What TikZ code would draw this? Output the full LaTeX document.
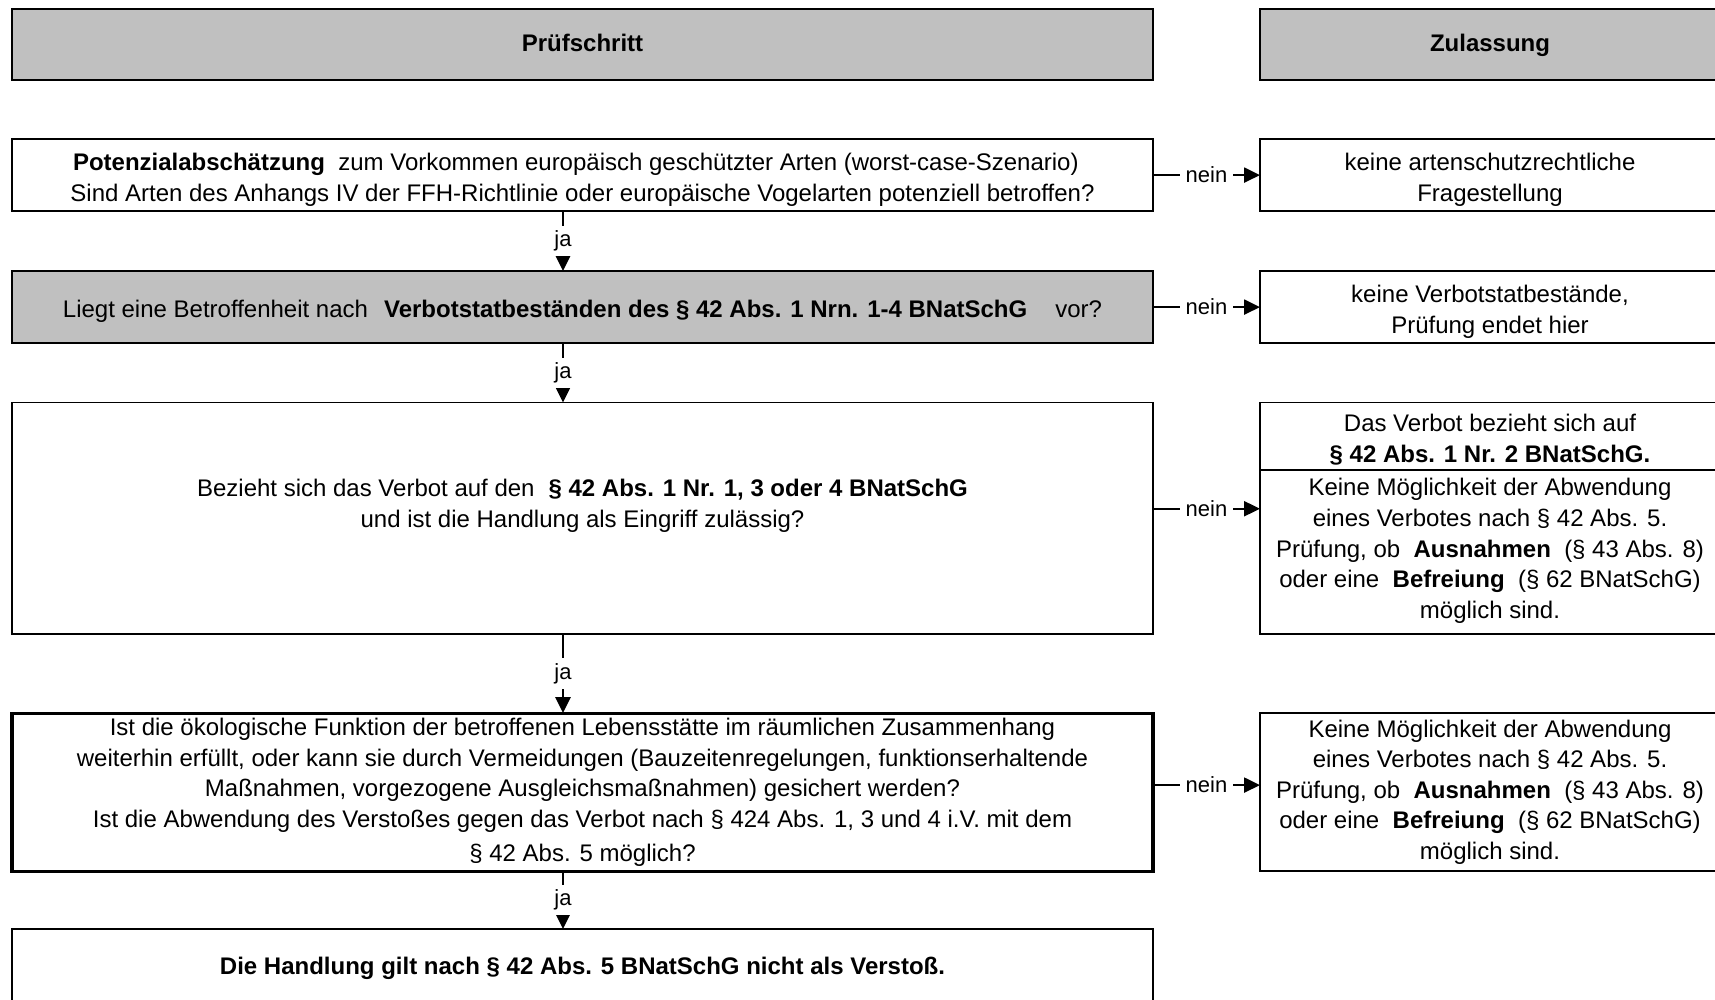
\documentclass[tikz,border=0pt]{standalone}
\usepackage{fontspec}
\setmainfont{Liberation Sans}
\usetikzlibrary{positioning,arrows.meta}

\definecolor{kopfgrau}{RGB}{192,192,192}

\tikzset{
  pbox/.style={draw, line width=0.9pt, outer sep=0pt, minimum width=570.5pt, inner ysep=0.5pt,
    align=center, font=\fontsize{12}{15.3}\selectfont},
  zbox/.style={pbox, minimum width=230pt},
  grau/.style={fill=kopfgrau},
  kopf/.style={grau, minimum height=35.5pt, text height=0.9em, text depth=0.21em},
  txt/.style={align=center, inner sep=0pt, font=\fontsize{12}{15.3}\selectfont},
  lbl/.style={fill=white, inner xsep=3pt, inner ysep=2.5pt, font=\fontsize{11}{13}\selectfont},
}

% etwas Luft ueber der ersten Zeile
\newcommand{\oben}{\rule{0pt}{13.2pt}}

\newcommand{\abwendung}{Keine Möglichkeit der Abwendung\\
  eines Verbotes nach § 42 Abs. 5.\\
  Prüfung, ob\ \ \textbf{Ausnahmen}\ \ (§ 43 Abs. 8)\\
  oder eine\ \ \textbf{Befreiung}\ \ (§ 62 BNatSchG)\\
  möglich sind.}

\begin{document}
\begin{tikzpicture}[>={Triangle[length=8pt,width=7.5pt]}, line width=1.2pt]
  \useasboundingbox (0,0) rectangle (857.5pt,-500pt);

  % linke Spalte: Pruefschritte
  \node[pbox,kopf]                       (h0) at (291.25pt,-22.2pt) {\textbf{Prüfschritt}};
  \node[pbox,minimum height=36pt]        (b1) [below=29.6pt of h0]
    {\oben\ \textbf{Potenzialabschätzung}\ \ zum Vorkommen europäisch geschützter Arten (worst-case-Szenario)\hspace*{10pt}\\
     Sind Arten des Anhangs IV der FFH-Richtlinie oder europäische Vogelarten potenziell betroffen?};
  \node[pbox,grau,minimum height=36pt]   (b2) [below=30pt of b1]
    {\oben Liegt eine Betroffenheit nach\hspace{8pt}\textbf{Verbotstatbeständen des § 42 Abs. 1 Nrn. 1-4 BNatSchG}\hspace{14pt}vor?};
  \node[pbox,minimum height=115.75pt]    (b3) [below=29.75pt of b2]
    {Bezieht sich das Verbot auf den\hspace{7pt}\textbf{§ 42 Abs. 1 Nr. 1, 3 oder 4 BNatSchG}\\
     und ist die Handlung als Eingriff zulässig?\\ \mbox{}};
  \node[pbox,line width=1.6pt,minimum height=79pt] (b4) [below=39.5pt of b3]
    {Ist die ökologische Funktion der betroffenen Lebensstätte im räumlichen Zusammenhang\\
     weiterhin erfüllt, oder kann sie durch Vermeidungen (Bauzeitenregelungen, funktionserhaltende\\
     Maßnahmen, vorgezogene Ausgleichsmaßnahmen) gesichert werden?\\
     Ist die Abwendung des Verstoßes gegen das Verbot nach § 424 Abs. 1, 3 und 4 i.V. mit dem\\[1.5pt]
     § 42 Abs. 5 möglich?};
  \node[pbox,minimum height=39pt]        (b5) [below=29pt of b4]
    {\textbf{Die Handlung gilt nach § 42 Abs. 5 BNatSchG nicht als Verstoß.}};

  % rechte Spalte: Zulassung
  \node[zbox,kopf]                       (z0) [right=53.5pt of h0] {\textbf{Zulassung}};
  \node[zbox,minimum height=36pt]        (z1) [right=53.5pt of b1]
    {\oben keine artenschutzrechtliche\\ Fragestellung};
  \node[zbox,minimum height=36pt]        (z2) [right=53.5pt of b2]
    {\oben keine Verbotstatbestände,\\ Prüfung endet hier};
  \node[zbox,minimum height=115.75pt]    (z3) [right=53.5pt of b3] {};
  \node[txt] (z3a) at ([yshift=-18.6pt]z3.north)
    {Das Verbot bezieht sich auf\\ \textbf{§ 42 Abs. 1 Nr. 2 BNatSchG.}};
  \node[txt] (z3b) at ([yshift=-74.1pt]z3.north) {\abwendung};
  \coordinate (z3cut) at ([yshift=-33.75pt]z3.north);
  \draw[line width=0.9pt] (z3.west |- z3cut) -- (z3.east |- z3cut);
  \node[zbox,minimum height=79pt]        (z4) [right=53.5pt of b4] {\abwendung};

  % ja / nein
  \path [->]
    ([xshift=-9.75pt]b1.south) edge node[lbl] {ja} ([xshift=-9.75pt]b2.north)
    ([xshift=-9.75pt]b2.south) edge node[lbl] {ja} ([xshift=-9.75pt]b3.north)
    ([xshift=-9.75pt]b3.south) edge node[lbl] {ja} ([xshift=-9.75pt]b4.north)
    ([xshift=-9.75pt]b4.south) edge node[lbl] {ja} ([xshift=-9.75pt]b5.north)
    (b1.east)                  edge node[lbl] {nein} (z1.west)
    (b2.east)                  edge node[lbl] {nein} (z2.west)
    ([yshift=4.8pt]b3.east)    edge node[lbl] {nein} ([yshift=4.8pt]z3.west)
    ([yshift=3.5pt]b4.east)    edge node[lbl] {nein} ([yshift=3.5pt]z4.west);
\end{tikzpicture}
\end{document}
